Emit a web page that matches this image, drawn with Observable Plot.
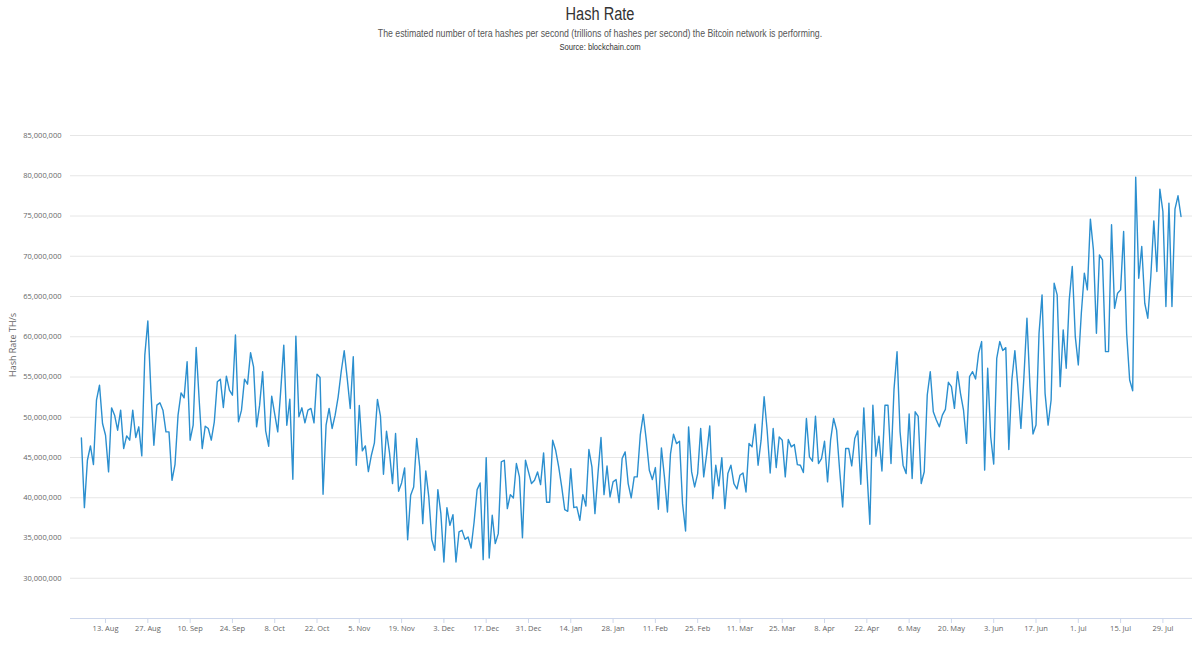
<!DOCTYPE html>
<html>
<head>
<meta charset="utf-8">
<script src="https://cdn.jsdelivr.net/npm/d3@7"></script>
<script src="https://cdn.jsdelivr.net/npm/@observablehq/plot@0.6"></script>
<style>
  html, body { margin: 0; padding: 0; background: #fff; }
  #head { position: relative; width: 1200px; height: 60px; font-family: "Liberation Sans", Arial, sans-serif; }
  #head div { position: absolute; left: 0; width: 1200px; text-align: center; white-space: nowrap; line-height: 1; transform-origin: 600px 50%; }
  #title { top: 5px; font-size: 18px; color: #333; transform: scaleX(0.81); }
  #subtitle { top: 28px; font-size: 11px; color: #555; transform: scaleX(0.795); }
  #source { top: 43px; font-size: 8.5px; color: #333; transform: scaleX(0.9); }
  #chart svg { display: block; }
</style>
</head>
<body>
<div id="head">
  <div id="title">Hash Rate</div>
  <div id="subtitle">The estimated number of tera hashes per second (trillions of hashes per second) the Bitcoin network is performing.</div>
  <div id="source">Source: blockchain.com</div>
</div>
<div id="chart"></div>
<script>
// Daily series start date (one value per day)
const startDate = "2018-08-05";

// Hash rate, millions of TH/s
const hashRateMillions = [
  47.44, 38.77, 44.66, 46.44, 44.12, 52.12, 53.99, 49.22, 47.77, 43.21,
  51.17, 50.26, 48.39, 50.88, 46.11, 47.69, 47.15, 50.88, 47.48, 48.81,
  45.20, 57.72, 61.95, 53.37, 46.53, 51.50, 51.79, 50.88, 48.18, 48.18,
  42.17, 44.16, 50.26, 53.03, 52.41, 56.89, 47.15, 49.01, 58.67, 52.12,
  46.11, 48.89, 48.60, 47.15, 49.43, 54.40, 54.73, 51.21, 55.11, 53.37,
  52.74, 60.21, 49.43, 50.88, 54.73, 54.11, 58.01, 56.27, 48.81, 51.50,
  55.65, 48.31, 46.40, 52.62, 50.38, 48.18, 53.37, 58.96, 49.01, 52.25,
  42.30, 60.08, 50.05, 51.17, 49.30, 50.88, 51.09, 49.30, 55.36, 54.94,
  40.43, 49.01, 51.09, 48.60, 50.26, 52.54, 55.65, 58.26, 54.82, 51.09,
  57.51, 44.04, 51.46, 45.82, 46.44, 43.25, 45.28, 46.82, 52.21, 50.13,
  42.92, 48.27, 45.57, 41.76, 47.98, 40.80, 41.84, 43.71, 34.79, 40.31,
  41.34, 47.36, 43.83, 36.78, 43.33, 40.10, 34.79, 33.47, 41.01, 38.03,
  32.02, 38.77, 36.58, 37.90, 32.02, 35.75, 35.95, 34.83, 35.12, 33.76,
  36.99, 41.01, 41.84, 32.31, 44.99, 32.51, 37.82, 34.30, 35.54, 44.45,
  44.66, 38.65, 40.39, 39.98, 44.25, 42.59, 35.04, 44.66, 43.21, 41.76,
  42.17, 43.21, 41.63, 45.57, 39.44, 39.44, 47.15, 45.90, 43.83, 41.34,
  38.52, 38.32, 43.62, 38.77, 38.86, 37.20, 40.39, 38.98, 45.99, 43.83,
  38.03, 43.00, 47.48, 40.39, 43.95, 40.10, 41.97, 42.26, 39.39, 44.87,
  45.70, 41.76, 39.98, 42.59, 42.59, 47.77, 50.34, 47.15, 43.42, 42.26,
  43.75, 38.57, 46.19, 42.59, 38.23, 45.41, 47.89, 46.73, 47.02, 39.27,
  35.87, 48.81, 43.21, 41.34, 43.00, 48.60, 42.59, 45.49, 48.93, 39.89,
  44.04, 41.47, 44.99, 38.65, 43.00, 44.04, 41.76, 41.09, 42.79, 43.08,
  40.72, 46.73, 46.32, 49.14, 44.04, 47.15, 52.54, 48.39, 43.08, 48.60,
  43.75, 47.56, 47.15, 42.59, 47.23, 46.32, 46.61, 44.12, 44.04, 43.13,
  49.84, 45.07, 44.54, 50.13, 44.25, 44.87, 47.02, 41.97, 47.15, 49.84,
  48.39, 43.42, 38.86, 46.11, 46.11, 43.96, 47.36, 48.31, 41.67, 51.17,
  43.50, 36.70, 51.50, 45.16, 47.64, 43.33, 51.50, 51.50, 44.25, 53.50,
  58.13, 48.20, 44.05, 43.00, 50.40, 42.40, 50.68, 50.10, 41.77, 43.23,
  52.76, 55.66, 50.69, 49.65, 48.82, 50.27, 50.98, 54.34, 53.80, 51.10,
  55.66, 52.97, 50.90, 46.75, 55.04, 55.66, 54.75, 57.94, 59.40, 43.43,
  56.08, 47.58, 44.18, 57.32, 59.40, 58.28, 58.65, 46.00, 54.63, 58.28,
  53.80, 48.62, 55.04, 62.30, 53.80, 47.91, 49.03, 60.43, 65.20, 52.97,
  49.03, 52.14, 66.65, 65.20, 53.80, 60.85, 56.08, 64.58, 68.72, 60.02,
  56.50, 62.92, 67.90, 65.82, 74.61, 70.80, 60.43, 70.17, 69.55, 58.15,
  58.15, 73.91, 63.54, 65.41, 65.82, 73.08, 60.43, 54.63, 53.30, 79.83,
  67.27, 71.21, 64.16, 62.30, 67.48, 74.40, 68.10, 78.34, 75.56, 63.75,
  76.60, 63.75, 75.85, 77.51, 74.94
];

// Axis tick values
const xTickDates = [
  "2018-08-13", "2018-08-27", "2018-09-10", "2018-09-24", "2018-10-08", "2018-10-22",
  "2018-11-05", "2018-11-19", "2018-12-03", "2018-12-17", "2018-12-31", "2019-01-14",
  "2019-01-28", "2019-02-11", "2019-02-25", "2019-03-11", "2019-03-25", "2019-04-08",
  "2019-04-22", "2019-05-06", "2019-05-20", "2019-06-03", "2019-06-17", "2019-07-01",
  "2019-07-15", "2019-07-29"
];
const yTicks = [30e6, 35e6, 40e6, 45e6, 50e6, 55e6, 60e6, 65e6, 70e6, 75e6, 80e6, 85e6];

const start = new Date(startDate + "T00:00:00Z");
const data = hashRateMillions.map((v, i) => ({
  date: d3.utcDay.offset(start, i),
  value: v * 1e6
}));
const xTicks = xTickDates.map(s => new Date(s + "T00:00:00Z"));

const DAY = 864e5;
const ref = xTicks[0].getTime();
const xDomain = [new Date(ref - 11.6 * DAY), new Date(ref + 359.8 * DAY)];

const fmtX = d3.utcFormat("%-d. %b");
const fmtY = d3.format(",");

const chart = Plot.plot({
  width: 1200,
  height: 586,
  marginTop: 75,
  marginBottom: 28,
  marginLeft: 70,
  marginRight: 8,
  style: { fontFamily: "'Open Sans', sans-serif", fontSize: "7.5px", background: "#fff", color: "#666" },
  x: { type: "utc", domain: xDomain },
  y: { domain: [25e6, 85e6] },
  marks: [
    Plot.gridY(yTicks, { stroke: "#e6e6e6", strokeOpacity: 1 }),
    Plot.ruleY([25e6], { stroke: "#ccd6eb", strokeWidth: 1 }),
    Plot.axisY(yTicks, { tickSize: 0, tickPadding: 9, tickFormat: fmtY, fill: "#666", label: null }),
    Plot.axisX(xTicks, { tickSize: 5, tickPadding: 2, tickFormat: fmtX, stroke: "#ccd6eb", fill: "#666", label: null }),
    Plot.line(data, { x: "date", y: "value", stroke: "#2b8fcf", strokeWidth: 1.4 }),
    Plot.text(["Hash Rate TH/s"], { frameAnchor: "left", rotate: -90, dx: -57, fill: "#666", fontSize: 9 })
  ]
});
document.getElementById("chart").appendChild(chart);
</script>
</body>
</html>
